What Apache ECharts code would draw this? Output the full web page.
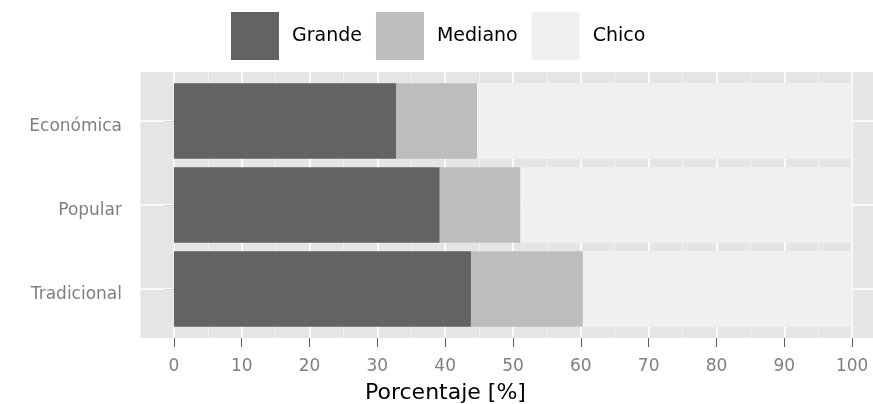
<!DOCTYPE html>
<html>
<head>
<meta charset="utf-8">
<script src="https://cdn.jsdelivr.net/npm/echarts@6/dist/echarts.min.js"></script>
<style>
  html, body { margin: 0; padding: 0; background: #ffffff; overflow: hidden; width: 873px; height: 404px; }
  #chart { width: 886px; height: 404px; }
</style>
</head>
<body>
<div id="chart"></div>
<script>
// ---- data ----
const categories = ['Económica', 'Popular', 'Tradicional'];
const seriesNames = ['Grande', 'Mediano', 'Chico'];
const grande = [32.8, 39.2, 43.8];
const mediano = [11.9, 11.9, 16.5];
const chico = [55.3, 48.9, 39.7];
const xTicks = [0, 10, 20, 30, 40, 50, 60, 70, 80, 90, 100];
const axisTitle = 'Porcentaje [%]';

const colors = ['#636363', '#bdbdbd', '#f0f0f0'];
const values = [grande, mediano, chico];
const FONT = 'DejaVu Sans';

const chart = echarts.init(document.getElementById('chart'), null, { renderer: 'canvas' });

const barSeries = seriesNames.map((name, i) => ({
  name: name,
  type: 'bar',
  stack: 'total',
  xAxisIndex: 2,
  yAxisIndex: 1,
  barCategoryGap: '10%',
  z: 2,
  itemStyle: { color: colors[i], borderWidth: 0 },
  emphasis: { disabled: true },
  data: values[i]
}));

const option = {
  animation: false,
  title: {
    text: axisTitle,
    left: 365,
    top: 382,
    padding: 0,
    textStyle: { fontFamily: FONT, fontSize: 22, fontWeight: 'normal', color: '#000000' }
  },
  legend: {
    left: 231,
    top: 12,
    padding: 0,
    itemWidth: 48,
    itemHeight: 48,
    itemGap: 14,
    icon: 'rect',
    data: seriesNames,
    itemStyle: { borderWidth: 0 },
    textStyle: { fontFamily: FONT, fontSize: 19, color: '#000000', padding: [6, 0, 0, 8] }
  },
  grid: [
    { left: 140, top: 72, width: 746, height: 266, show: true, backgroundColor: '#e5e5e5', borderWidth: 0 },
    { left: 140, top: 79, width: 746, height: 252, show: false }
  ],
  xAxis: [
    {
      gridIndex: 0, type: 'value', min: -5, max: 105, interval: 10,
      axisLine: { show: false }, axisTick: { show: false }, axisLabel: { show: false },
      splitLine: { show: true, lineStyle: { color: '#f2f2f2', width: 0.8 } },
      minorTick: { show: false, splitNumber: 2 },
      minorSplitLine: { show: true, lineStyle: { color: '#ffffff', width: 1.6 } }
    },
    {
      gridIndex: 0, type: 'value', position: 'bottom', min: -5, max: 105,
      axisLine: { show: false },
      splitLine: { show: false },
      axisTick: { show: true, customValues: xTicks, length: 9, lineStyle: { color: '#5e5e5e', width: 1 } },
      axisLabel: { show: true, customValues: xTicks, margin: 20, fontFamily: FONT, fontSize: 17, color: '#7f7f7f' }
    },
    {
      gridIndex: 1, type: 'value', min: -5, max: 105, show: false
    }
  ],
  yAxis: [
    { gridIndex: 0, type: 'value', min: 0, max: 1, show: false },
    {
      gridIndex: 1, type: 'category', inverse: true, data: categories, position: 'left',
      axisLine: { show: false },
      axisTick: { show: true, alignWithLabel: true, length: 10, lineStyle: { color: '#5e5e5e', width: 1 } },
      axisLabel: {
        margin: 18, verticalAlign: 'top', lineHeight: 11,
        fontFamily: FONT, fontSize: 17, color: '#7f7f7f'
      },
      splitLine: { show: false }
    }
  ],
  series: [
    {
      type: 'line',
      xAxisIndex: 2,
      yAxisIndex: 1,
      data: [],
      z: 1,
      markLine: {
        z: 1,
        silent: true,
        symbol: ['none', 'none'],
        label: { show: false },
        lineStyle: { color: '#ffffff', width: 1.6, type: 'solid' },
        emphasis: { disabled: true },
        data: categories.map(c => ({ yAxis: c }))
      }
    }
  ].concat(barSeries)
};

chart.setOption(option);
</script>
</body>
</html>
